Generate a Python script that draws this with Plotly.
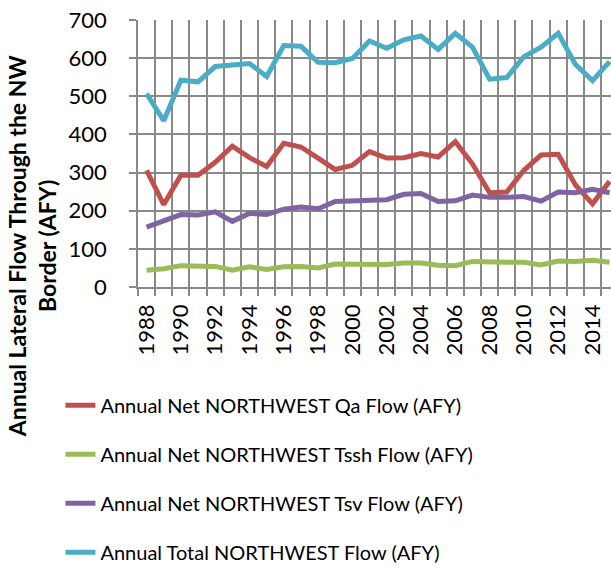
import plotly.graph_objects as go

# Annual lateral flow across the northwest boundary (acre-feet per year)
years = list(range(1988, 2016))

qa_flow = [306, 216, 293, 293, 327, 369, 339, 316, 377, 367, 338, 308, 319, 355,
           338, 339, 350, 341, 381, 323, 247, 249, 306, 346, 348, 268, 218, 277]
tssh_flow = [44, 48, 56, 54, 54, 44, 53, 46, 53, 54, 50, 60, 59, 61,
             59, 63, 63, 57, 56, 67, 65, 65, 65, 58, 68, 67, 70, 65]
tsv_flow = [157, 172, 190, 189, 197, 172, 193, 190, 204, 210, 205, 224, 225, 226,
            229, 243, 245, 224, 226, 241, 235, 235, 237, 225, 249, 247, 256, 247]
total_flow = [507, 436, 542, 538, 578, 583, 586, 552, 633, 631, 589, 588, 599, 645,
              626, 648, 658, 623, 665, 629, 545, 549, 604, 629, 665, 584, 541, 591]

series_names = [
    "Annual Net NORTHWEST Qa Flow (AFY)",
    "Annual Net NORTHWEST Tssh Flow (AFY)",
    "Annual Net NORTHWEST Tsv Flow (AFY)",
    "Annual Total NORTHWEST Flow (AFY)",
]
series_values = [qa_flow, tssh_flow, tsv_flow, total_flow]
series_colors = ["#C0504D", "#9BBB59", "#8064A2", "#4BACC6"]

year_labels = [y for y in years if y % 2 == 0]
category_edges = [y - 0.5 for y in years] + [years[-1] + 0.5]

FONT = "Lato"
GRID = "#898989"

fig = go.Figure()
for i, (name, vals, col) in enumerate(zip(series_names, series_values, series_colors)):
    fig.add_trace(go.Scatter(
        x=years, y=vals, name=name, mode="lines",
        line=dict(color=col, width=5),
        legendgroup=f"g{i}",
    ))

fig.update_layout(
    width=611, height=572,
    margin=dict(l=138, r=0, t=20, b=274),
    paper_bgcolor="white", plot_bgcolor="white",
    font=dict(family=FONT, size=22, color="black"),
    showlegend=True,
    legend=dict(
        x=-0.164, xanchor="left", y=-0.37, yanchor="top",
        orientation="v", tracegroupgap=20,
        font=dict(family=FONT, size=20, color="black"),
        bgcolor="rgba(0,0,0,0)",
    ),
    xaxis=dict(
        range=[1987.5, 2015.08],
        tickmode="array", tickvals=year_labels,
        ticktext=[str(y) for y in year_labels],
        tickangle=-90, showgrid=False, zeroline=False,
        ticks="outside", ticklen=7, tickcolor="rgba(0,0,0,0)",
        showline=True, linecolor=GRID, linewidth=1.5,
        tickfont=dict(family=FONT, size=22, color="black"),
        minor=dict(
            tickmode="array", tickvals=category_edges,
            ticks="outside", ticklen=7, tickcolor=GRID, tickwidth=1.5,
            showgrid=True, gridcolor=GRID, gridwidth=1.5,
        ),
    ),
    yaxis=dict(
        range=[0, 700], tickmode="linear", tick0=0, dtick=100,
        showgrid=True, gridcolor=GRID, gridwidth=1.5, zeroline=False,
        ticks="outside", ticklen=7, tickcolor=GRID, tickwidth=1.5,
        showline=True, linecolor=GRID, linewidth=1.5,
        ticklabelstandoff=18,
        tickfont=dict(family=FONT, size=22, color="black"),
    ),
    annotations=[dict(
        text="<b>Annual Lateral Flow Through the NW<br>Border (AFY)</b>",
        xref="paper", yref="paper", x=-0.225, y=0.151,
        xanchor="center", yanchor="middle", textangle=-90,
        showarrow=False, font=dict(family=FONT, size=23, color="black"),
    )],
)

fig.write_html("out.html")
